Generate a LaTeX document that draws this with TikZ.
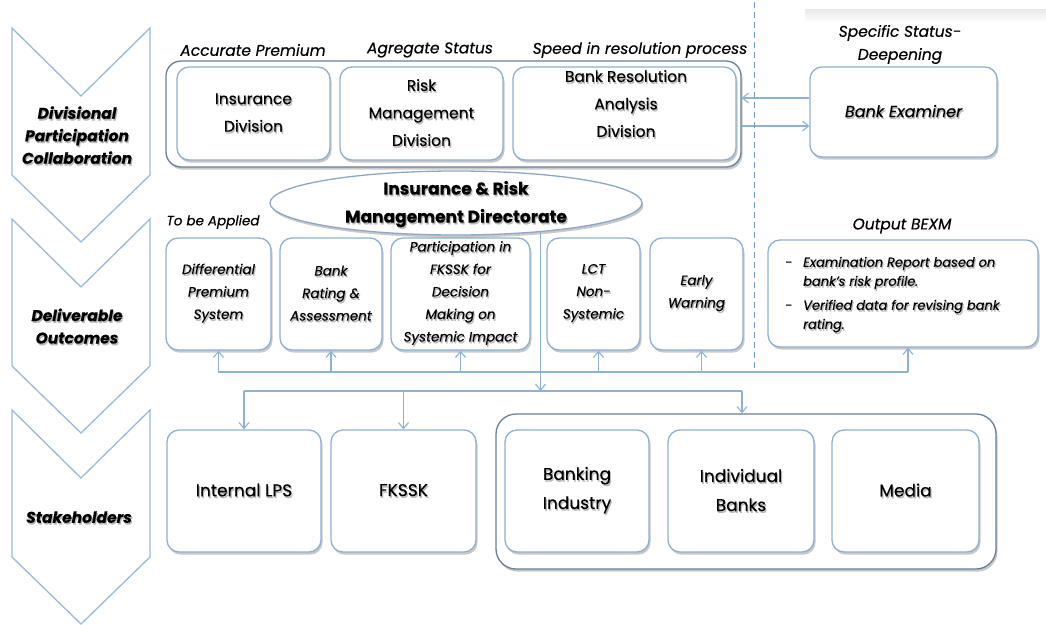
\documentclass[tikz,border=0pt]{standalone}
\usepackage{fontspec}
\setmainfont{Poppins}[FakeBold=0.35]
\usetikzlibrary{arrows.meta,shadows,shapes.geometric}

\definecolor{boxline}{RGB}{141,176,210}
\definecolor{outerline}{RGB}{104,128,152}
\definecolor{conn}{RGB}{141,178,214}
\definecolor{dashline}{RGB}{112,152,200}
\definecolor{chevline}{RGB}{152,186,216}
\definecolor{ellline}{RGB}{140,168,196}

% text with a soft grey shadow underneath
\newcommand\shd[1]{\leavevmode\rlap{\kern1.1pt\raisebox{-1.8pt}{\textcolor{black!28}{#1}}}#1}
% one chevron of the stage column, given its top edge
\newcommand\chevron[1]{\draw[chev] (12,#1) -- (81,{#1+68}) -- (150,#1) -- (150,{#1+147}) -- (81,{#1+214}) -- (12,{#1+147}) -- cycle;}

\begin{document}
\begin{tikzpicture}[x=1pt,y=-1pt,
  box/.style={draw=boxline, line width=1.3pt, rounded corners=12pt, fill=white,
    drop shadow={shadow xshift=1.5pt, shadow yshift=-2.6pt, opacity=.3, fill=black!70},
    align=center, inner sep=1pt},
  outerbox/.style={box, draw=outerline, rounded corners=15pt},
  arr/.style={draw=conn, line width=1.1pt, -{Straight Barb[length=6pt,width=10pt]}},
  conline/.style={draw=conn, line width=1.1pt},
  chev/.style={draw=chevline, line width=1.3pt, line join=miter},
  fdivi/.style={font=\fontsize{15.5}{27.5}\selectfont},
  fdeliv/.style={font=\itshape\fontsize{13.5}{22.5}\selectfont},
  fstake/.style={font=\fontsize{17}{29}\selectfont},
  fhead/.style={font=\itshape\fontsize{15.5}{23}\selectfont, align=center, inner sep=0pt},
  fsmall/.style={font=\itshape\fontsize{13.5}{20}\selectfont, align=center, inner sep=0pt},
  fstage/.style={font=\bfseries\itshape\fontsize{15.5}{22.5}\selectfont, align=center, inner sep=0pt},
]
\useasboundingbox (0,0) rectangle (1046,624);

% faint band at the top right
\shade[top color=black!9, bottom color=white] (805,9) rectangle (1046,22);

% stage chevrons
\chevron{28}
\chevron{219}
\chevron{410}
\node[fstage] (stage1) at (77,136) {\shd{Divisional}\\\shd{Participation}\\\shd{Collaboration}};
\node[fstage] (stage2) at (77,327) {\shd{Deliverable}\\\shd{Outcomes}};
\node[fstage] (stage3) at (79,518) {\shd{Stakeholders}};

% divisions
\node[outerbox, minimum width=575pt, minimum height=106pt] (divgroup) at (453.5,114) {};
\node[box, fdivi, minimum width=153pt, minimum height=93pt] (insdiv) at (253.5,113.5) {\shd{Insurance}\\\shd{Division}};
\node[box, fdivi, minimum width=163pt, minimum height=93pt] (riskdiv) at (421.5,113.5) {\shd{Risk}\\\shd{Management}\\\shd{Division}};
\node[box, minimum width=223pt, minimum height=93pt] (resdiv) at (624.5,113.5) {};
\node[fdivi, align=center, inner sep=0pt] (restxt) at (626,104.5) {\shd{Bank Resolution}\\\shd{Analysis}\\\shd{Division}};
\node[box, font=\itshape\fontsize{16}{20}\selectfont, minimum width=187pt, minimum height=90pt] (bankexam) at (903.5,112) {\shd{Bank Examiner}};

\node[fhead] (hprem) at (253,50) {Accurate Premium};
\node[fhead] (hagg) at (430,50) {Agregate Status};
\node[fhead] (hspeed) at (640,50) {Speed in resolution process};
\node[fhead] (hspec) at (900,44.5) {Specific Status-\\Deepening};

\draw[arr] ([yshift=14pt]bankexam.west) -- ([yshift=14pt]bankexam.west -| divgroup.east);
\draw[arr] ([yshift=-14pt]bankexam.west -| divgroup.east) -- ([yshift=-14pt]bankexam.west);

% divider between the directorate and the examiner
\coordinate (dtop) at (754,2);
\coordinate (dbot) at (754,372);
\draw[dashline, line width=1pt, dash pattern=on 6pt off 4pt] (dtop) -- (dbot);

% deliverables
\node[fsmall] (happlied) at (213,222) {To be Applied};
\node[box, fdeliv, minimum width=105pt, minimum height=112pt] (diff) at (218.5,294) {\shd{Differential}\\\shd{Premium}\\\shd{System}};
\node[box, fdeliv, minimum width=102pt, minimum height=112pt] (rating) at (331,294) {\shd{Bank}\\\shd{Rating \&}\\\shd{Assessment}};
\node[box, fdeliv, minimum width=139pt, minimum height=112pt] (part) at (460.5,294) {\shd{Participation in}\\\shd{FKSSK for}\\\shd{Decision}\\\shd{Making on}\\\shd{Systemic Impact}};
\node[box, fdeliv, minimum width=93pt, minimum height=112pt] (lct) at (593.5,294) {\shd{LCT}\\\shd{Non-}\\\shd{Systemic}};
\node[box, fdeliv, minimum width=93pt, minimum height=112pt] (early) at (696.5,294) {\shd{Early}\\\shd{Warning}};
\node[fhead] (hbexm) at (902,226) {Output BEXM};
\node[box, minimum width=270pt, minimum height=107pt] (bexm) at (903,293.5) {};
\node[anchor=west, inner sep=0pt, font=\itshape\fontsize{13}{19}\selectfont] (bexmtxt) at (785,294)
  {\begin{tabular}{@{}l@{}l@{}}
   \makebox[18pt][l]{-} & \shd{Examination Report based on}\\
   & \shd{bank's risk profile.}\\[5pt]
   \makebox[18pt][l]{-} & \shd{Verified data for revising bank}\\
   & \shd{rating.}
   \end{tabular}};

% directorate
\node[ellipse, draw=ellline, line width=1.3pt, fill=white,
  drop shadow={shadow xshift=1.5pt, shadow yshift=-2.6pt, opacity=.3, fill=black!70},
  minimum width=372pt, minimum height=64pt, inner sep=0pt] (dir) at (456,203) {};
\node[font=\bfseries\fontsize{17}{28}\selectfont, align=center, inner sep=0pt] (dirtxt) at (456,205)
  {\shd{Insurance \& Risk}\\\shd{Management Directorate}};

% stakeholders
\node[box, fstake, minimum width=154pt, minimum height=122pt] (lps) at (244,491) {\shd{Internal LPS}};
\node[box, fstake, minimum width=145pt, minimum height=122pt] (fkssk) at (403.5,491) {\shd{FKSSK}};
\node[outerbox, rounded corners=20pt, minimum width=500pt, minimum height=155pt] (stakegroup) at (746,491.5) {};
\node[box, fstake, minimum width=144pt, minimum height=122pt] (bankind) at (577,491) {\shd{Banking}\\\shd{Industry}};
\node[box, fstake, minimum width=146pt, minimum height=122pt] (indbank) at (741,491) {\shd{Individual}\\\shd{Banks}};
\node[box, fstake, minimum width=147pt, minimum height=122pt] (media) at (905.5,491) {\shd{Media}};

% feedback bus under the deliverables
\coordinate (busL) at (218,372);
\coordinate (busR) at (908,372);
\coordinate (lctin) at ([xshift=5pt]lct.south);
\coordinate (earlyin) at ([xshift=5pt]early.south);
\coordinate (bexmin) at ([xshift=5pt]bexm.south);
\draw[conline] (busL) -- (busR);
\draw[arr] (diff.south |- busL) -- (diff.south);
\draw[arr] (rating.south |- busL) -- (rating.south);
\draw[arr] (part.south |- busL) -- (part.south);
\draw[arr] (lctin |- busL) -- (lctin);
\draw[arr] (earlyin |- busL) -- (earlyin);
\draw[arr] (bexmin |- busL) -- (bexmin);

% distribution bus to the stakeholders
\coordinate (bus2L) at (244,391);
\coordinate (bus2R) at (742,391);
\draw[conline] (bus2L) -- (bus2R);
\draw[arr] (dir.-19.3) -- (dir.-19.3 |- bus2L);
\draw[arr] (bus2L) -- (lps.north);
\draw[arr] (fkssk.north |- bus2L) -- (fkssk.north);
\draw[arr] (bus2R) -- (bus2R |- stakegroup.north);
\end{tikzpicture}
\end{document}
